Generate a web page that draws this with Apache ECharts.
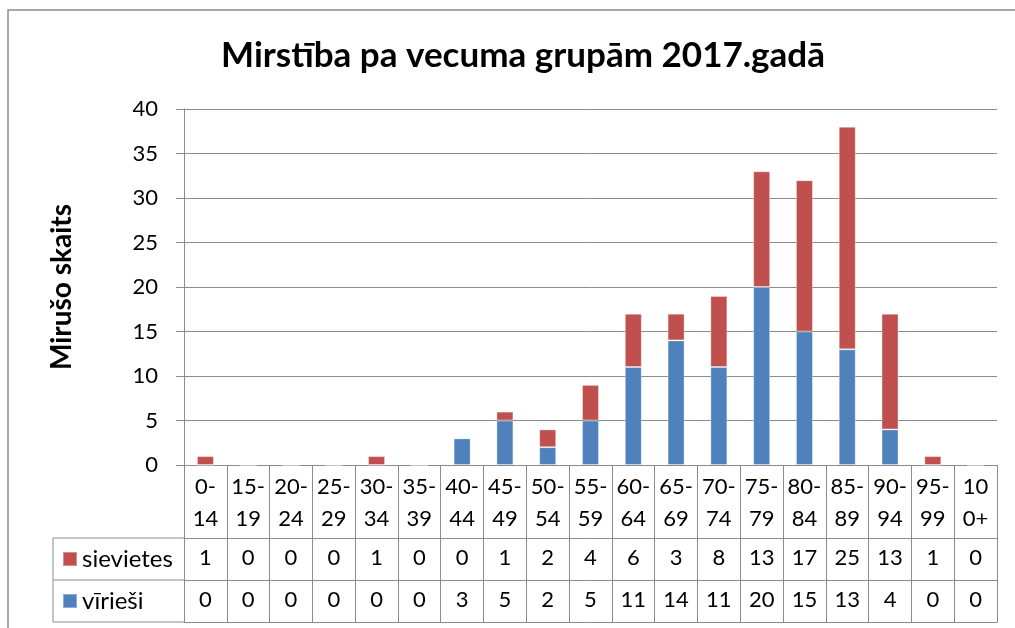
<!DOCTYPE html>
<html>
<head>
<meta charset="utf-8">
<script src="https://cdn.jsdelivr.net/npm/echarts@6/dist/echarts.min.js"></script>
<style>
  html, body { margin: 0; padding: 0; background: #fff; }
  #chart { width: 1015px; height: 628px; }
</style>
</head>
<body>
<div id="chart"></div>
<script>
const categories = ["0-14", "15-19", "20-24", "25-29", "30-34", "35-39", "40-44", "45-49", "50-54",
  "55-59", "60-64", "65-69", "70-74", "75-79", "80-84", "85-89", "90-94", "95-99", "100+"];
const sievietes = [1, 0, 0, 0, 1, 0, 0, 1, 2, 4, 6, 3, 8, 13, 17, 25, 13, 1, 0];
const virriesi = [0, 0, 0, 0, 0, 0, 3, 5, 2, 5, 11, 14, 11, 20, 15, 13, 4, 0, 0];
const yTicks = { min: 0, max: 40, interval: 5 };

const FONT = "Lato";
const GRAY = "#8c8c8c";
const RED = "#c0504d";
const BLUE = "#4f81bd";

// header label wraps in two lines like the Excel data table
function splitLabel(s) {
  const k = Math.ceil(s.length / 2);
  return s.slice(0, k) + "\n" + s.slice(k);
}

function rowAxis(offset, values, showLabel) {
  return {
    type: "category",
    position: "bottom",
    offset: offset,
    data: categories,
    axisLine: { show: true, lineStyle: { color: GRAY, width: 1 } },
    axisTick: { show: false },
    axisLabel: {
      show: showLabel,
      interval: 0,
      margin: 9,
      fontFamily: FONT,
      fontSize: 22,
      color: "#000",
      formatter: (v, i) => (values ? String(values[i]) : "")
    }
  };
}

function rowLegend(name, top) {
  return {
    left: 62,
    top: top,
    padding: 0,
    itemWidth: 14,
    itemHeight: 14,
    icon: "rect",
    data: [name],
    textStyle: { fontFamily: FONT, fontSize: 24, lineHeight: 24, color: "#000" }
  };
}

const chart = echarts.init(document.getElementById("chart"));
chart.setOption({
  animation: false,
  textStyle: { fontFamily: FONT },
  title: {
    text: "Mirstība pa vecuma grupām 2017.gadā",
    left: 518,
    textAlign: "center",
    top: 33,
    textStyle: { fontFamily: FONT, fontSize: 35, fontWeight: "bold", color: "#000" }
  },
  legend: [rowLegend("sievietes", 547), rowLegend("vīrieši", 589)],
  grid: { left: 184, right: 18, top: 109, bottom: 163 },
  xAxis: [
    {
      type: "category",
      position: "bottom",
      data: categories,
      axisLine: { show: true, lineStyle: { color: GRAY, width: 1 } },
      axisTick: { show: true, length: 157, lineStyle: { color: GRAY, width: 1 } },
      axisLabel: {
        interval: 0,
        margin: 6,
        fontFamily: FONT,
        fontSize: 22,
        lineHeight: 32,
        color: "#000",
        formatter: splitLabel
      }
    },
    rowAxis(73, sievietes, true),
    rowAxis(115, virriesi, true),
    rowAxis(157, null, false)
  ],
  yAxis: {
    type: "value",
    min: yTicks.min,
    max: yTicks.max,
    interval: yTicks.interval,
    name: "Mirušo skaits",
    nameLocation: "middle",
    nameGap: 108,
    nameRotate: 90,
    nameTextStyle: { fontFamily: FONT, fontSize: 28, fontWeight: "bold", color: "#000" },
    axisLine: { show: true, lineStyle: { color: GRAY, width: 1 } },
    axisTick: { show: true, length: 8, lineStyle: { color: GRAY } },
    splitLine: { show: true, lineStyle: { color: GRAY, width: 1 } },
    axisLabel: { margin: 26, fontFamily: FONT, fontSize: 22, color: "#000" }
  },
  series: [
    {
      name: "vīrieši",
      type: "bar",
      stack: "total",
      barWidth: 17,
      data: virriesi,
      itemStyle: { color: BLUE, borderColor: "rgba(255,255,255,0.35)", borderWidth: 1 }
    },
    {
      name: "sievietes",
      type: "bar",
      stack: "total",
      barWidth: 17,
      data: sievietes,
      itemStyle: { color: RED, borderColor: "rgba(255,255,255,0.35)", borderWidth: 1 }
    }
  ],
  graphic: [
    // outer chart border
    { type: "rect", shape: { x: 8, y: 10, width: 1030, height: 660 }, style: { fill: "none", stroke: GRAY, lineWidth: 1.5 }, silent: true },
    // legend column of the data table
    { type: "line", shape: { x1: 53, y1: 538, x2: 184, y2: 538 }, style: { stroke: GRAY, lineWidth: 1 } },
    { type: "line", shape: { x1: 53, y1: 580, x2: 184, y2: 580 }, style: { stroke: GRAY, lineWidth: 1 } },
    { type: "line", shape: { x1: 53, y1: 622, x2: 184, y2: 622 }, style: { stroke: GRAY, lineWidth: 1 } },
    { type: "line", shape: { x1: 53, y1: 538, x2: 53, y2: 622 }, style: { stroke: GRAY, lineWidth: 1 } }
  ]
});
</script>
</body>
</html>
